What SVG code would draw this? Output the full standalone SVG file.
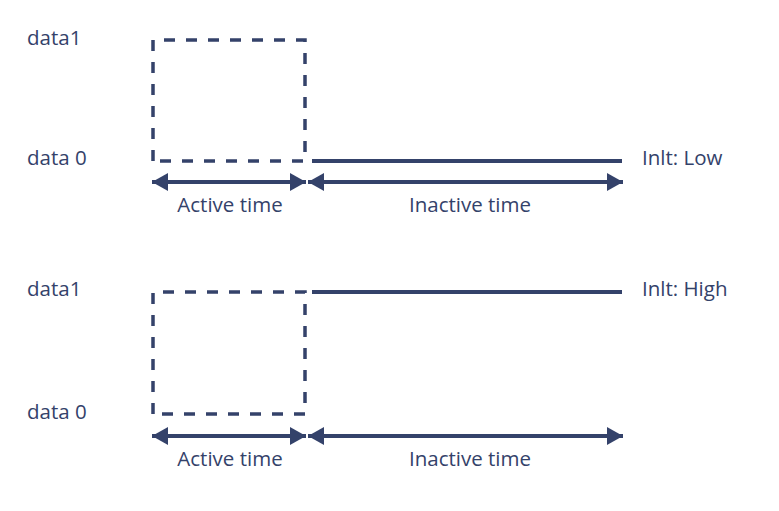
<svg xmlns="http://www.w3.org/2000/svg" width="779" height="511" viewBox="0 0 779 511">
<style>
.t{font-family:"Open Sans","Noto Sans","Liberation Sans",sans-serif;font-size:20.5px;fill:#34426a}
.box{fill:none;stroke:#34426a;stroke-width:3.5;stroke-dasharray:11 11}
.ln{stroke:#34426a;stroke-width:4;fill:none}
.ar{stroke:#34426a;stroke-width:4;fill:none;marker-start:url(#ah);marker-end:url(#ah)}
</style>
<defs>
<marker id="ah" viewBox="0 0 16 18" refX="16" refY="9" markerWidth="16" markerHeight="18" markerUnits="userSpaceOnUse" orient="auto-start-reverse">
<path d="M0,0 L16,9 L0,18 Z" fill="#34426a"/>
</marker>
</defs>
<rect width="779" height="511" fill="#ffffff"/>
<g id="labels">
<text class="t" x="27" y="45">data1</text>
<text class="t" x="27" y="165">data 0</text>
<text class="t" x="642" y="165">Inlt: Low</text>
<text class="t" x="27" y="296">data1</text>
<text class="t" x="27" y="419">data 0</text>
<text class="t" x="642" y="296">Inlt: High</text>
<text class="t" x="230" y="212" text-anchor="middle">Active time</text>
<text class="t" x="470" y="212" text-anchor="middle">Inactive time</text>
<text class="t" x="230" y="466" text-anchor="middle">Active time</text>
<text class="t" x="470" y="466" text-anchor="middle">Inactive time</text>
</g>
<g id="node-top">
<path class="box" d="M153,161 L153,40 L305,40 L305,161 L153,161"/>
</g>
<g id="node-bottom">
<path class="box" d="M153,414 L153,292 L305,292 L305,414 L153,414"/>
</g>
<g id="connectors">
<line class="ln" x1="312" y1="161" x2="622" y2="161"/>
<line class="ln" x1="312" y1="292" x2="622" y2="292"/>
<line class="ar" x1="152" y1="182" x2="306" y2="182"/>
<line class="ar" x1="308" y1="182" x2="623" y2="182"/>
<line class="ar" x1="152" y1="436" x2="306" y2="436"/>
<line class="ar" x1="308" y1="436" x2="623" y2="436"/>
</g>
</svg>
